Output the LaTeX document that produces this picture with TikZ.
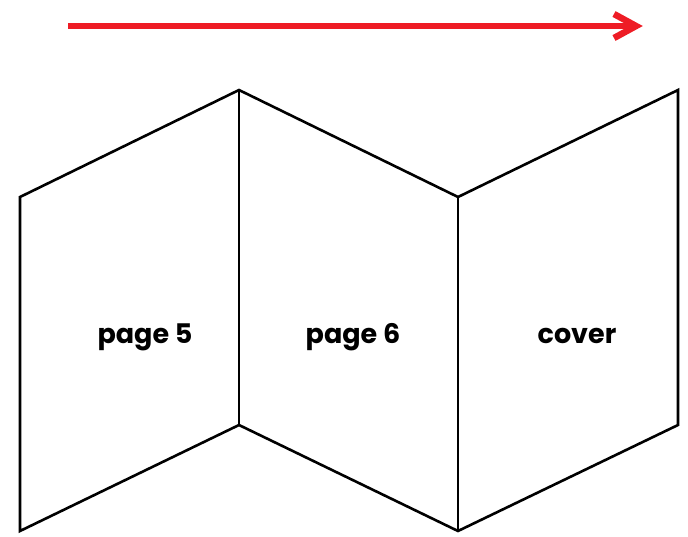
\documentclass[tikz,border=0pt]{standalone}
\usepackage{fontspec}
\setmainfont{Poppins}
\definecolor{arrowred}{HTML}{EE1C25}
\begin{document}
\begin{tikzpicture}[x=1pt,y=-1pt,
  panel/.style={draw=black,line width=2.6pt,line join=miter},
  lbl/.style={font=\bfseries\fontsize{27}{32}\selectfont,anchor=base,inner sep=0pt}]
\useasboundingbox (0,0) rectangle (688,536);
% fold coordinates
\coordinate (a1) at (20,197);
\coordinate (a2) at (239,90);
\coordinate (a3) at (458,197);
\coordinate (a4) at (678,90);
\coordinate (b1) at (20,531);
\coordinate (b2) at (239,425);
\coordinate (b3) at (458,531);
\coordinate (b4) at (678,425);
\draw[panel] (a1) -- (a2) -- (a3) -- (a4) -- (b4) -- (b3) -- (b2) -- (b1) -- cycle;
\draw[panel] (a2) -- (b2);
\draw[panel] (a3) -- (b3);
% arrow
\coordinate (s) at (68,26);
\coordinate (e) at (632,26);
\draw[arrowred,line width=6.5pt] (s) -- (e);
\coordinate (t1) at (614,14);
\coordinate (t2) at (636,26);
\coordinate (t3) at (614,38);
\draw[arrowred,line width=6.5pt,line join=miter] (t1) -- (t2) -- (t3);
% labels
\node[lbl] (p5) at (145,343) {page 5};
\node[lbl] (p6) at (353,343) {page 6};
\node[lbl] (cv) at (577,343) {cover};
\end{tikzpicture}
\end{document}
